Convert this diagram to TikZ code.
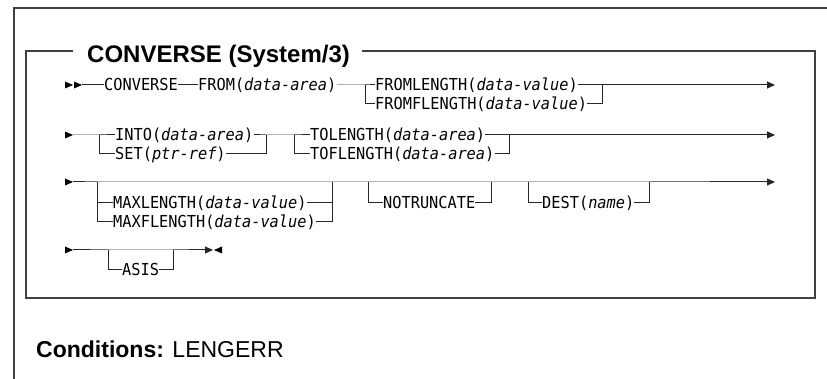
\documentclass[tikz,border=0pt]{standalone}
\usepackage{fontspec}
\setmainfont{Liberation Sans}
\newfontfamily\synfont[FakeStretch=0.927]{DejaVu Sans Mono}
\usetikzlibrary{arrows.meta}
\tikzset{
 syn/.style={inner sep=0pt, anchor=west, text height=12pt, text depth=0pt, font=\synfont\fontsize{16.5}{18}\selectfont},
 rail/.style={line width=1pt, draw=black!85},
 endarr/.style={-{Triangle[length=8pt,width=7pt]}},
 boxline/.style={line width=1.5pt, draw=black!75},
 fwd/.pic={\fill[black] (0,-3.5) -- (8,0) -- (0,3.5) -- cycle;},
 bwd/.pic={\fill[black] (8,-3.5) -- (0,0) -- (8,3.5) -- cycle;},
}
\begin{document}
\begin{tikzpicture}[x=1pt,y=-1pt]
\useasboundingbox (0,0) rectangle (827,379);
% outer frame
\draw[boxline] (14,381) -- (14,8) -- (829,8);
% inner box with title
\node[font=\bfseries\fontsize{24}{28}\selectfont, anchor=base west, inner sep=0pt] (title) at (87,63) {CONVERSE (System/3)};
\draw[boxline] (73,51) -- (26,51) -- (26,298) -- (815,298) -- (815,51) -- (362,51);
% conditions
\node[anchor=base west, inner sep=0pt, font=\fontsize{23}{26}\selectfont] (cond) at (36,357) {\textbf{Conditions:} LENGERR};

% ---- row 1
\pic at (65,85) {fwd};
\pic at (74,85) {fwd};
\coordinate (r1s) at (82,85);
\node[syn] (conv) at (104,85) {CONVERSE};
\node[syn] (from) at (198,85) {FROM({\itshape data-area})};
\coordinate (b1) at (365,85);
\node[syn] (fl) at (375,85) {FROMLENGTH({\itshape data-value})};
\node[syn] (ffl) at (375,104) {FROMFLENGTH({\itshape data-value})};
\coordinate (j1) at (602,85);
\coordinate (e1) at (775,85);
\draw[rail] (r1s) -- (conv.west);
\draw[rail] (conv.east) -- (from.west);
\draw[rail] (from.east) -- (b1) -- (fl.west);
\draw[rail] (b1) |- (ffl.west);
\draw[rail] (ffl.east) -| (j1);
\draw[rail,endarr] (fl.east) -- (e1);

% ---- row 2
\pic at (65,135) {fwd};
\coordinate (r2s) at (73,135);
\coordinate (b2a) at (99,135);
\node[syn] (into) at (115,135) {INTO({\itshape data-area})};
\node[syn] (set) at (115,154) {SET({\itshape ptr-ref})};
\coordinate (j2a) at (266,135);
\coordinate (b2b) at (294,135);
\node[syn] (tol) at (310,135) {TOLENGTH({\itshape data-area})};
\node[syn] (tofl) at (310,154) {TOFLENGTH({\itshape data-area})};
\coordinate (j2b) at (509,135);
\coordinate (e2) at (775,135);
\draw[rail] (r2s) -- (b2a) -- (into.west);
\draw[rail] (b2a) |- (set.west);
\draw[rail] (set.east) -| (j2a);
\draw[rail] (into.east) -- (j2a) -- (b2b) -- (tol.west);
\draw[rail] (b2b) |- (tofl.west);
\draw[rail] (tofl.east) -| (j2b);
\draw[rail,endarr] (tol.east) -- (e2);

% ---- row 3
\pic at (65,182) {fwd};
\coordinate (r3s) at (73,182);
\coordinate (b3a) at (97,182);
\node[syn] (max) at (113,203) {MAXLENGTH({\itshape data-value})};
\node[syn] (maxf) at (113,222) {MAXFLENGTH({\itshape data-value})};
\coordinate (j3a) at (332,182);
\coordinate (b3b) at (368,182);
\node[syn] (notr) at (383,203) {NOTRUNCATE};
\coordinate (j3b) at (491,182);
\coordinate (b3c) at (528,182);
\node[syn] (dest) at (542,203) {DEST({\itshape name})};
\coordinate (j3c) at (649,182);
\coordinate (e3) at (775,182);
\draw[rail,endarr] (r3s) -- (b3a) -- (j3a) -- (b3b) -- (j3b) -- (b3c) -- (j3c) -- (e3);
\draw[rail] (b3a) |- (maxf.west);
\draw[rail] (b3a |- max.west) -- (max.west);
\draw[rail] (max.east) -| (j3a);
\draw[rail] (maxf.east) -| (j3a);
\draw[rail] (b3b) |- (notr.west);
\draw[rail] (notr.east) -| (j3b);
\draw[rail] (b3c) |- (dest.west);
\draw[rail] (dest.east) -| (j3c);

% ---- row 4
\pic at (65,250) {fwd};
\coordinate (r4s) at (73,250);
\coordinate (b4) at (108,250);
\node[syn] (asis) at (122,270) {ASIS};
\coordinate (j4) at (173,250);
\coordinate (e4) at (213,250);
\draw[rail,endarr] (r4s) -- (b4) -- (j4) -- (e4);
\draw[rail] (b4) |- (asis.west);
\draw[rail] (asis.east) -| (j4);
\pic at (214,250) {bwd};
\end{tikzpicture}
\end{document}
